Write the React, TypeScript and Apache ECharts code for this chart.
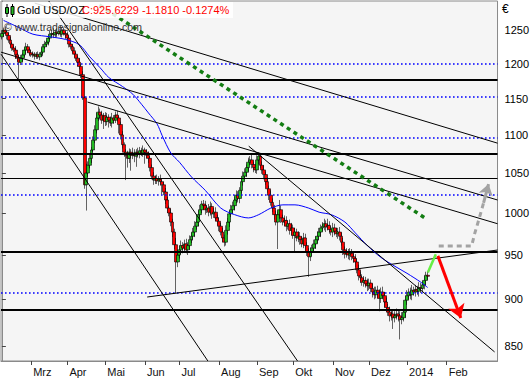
import React, { useEffect, useRef } from 'react';
import * as echarts from 'echarts';

const FONT = '"Liberation Sans", Arial, sans-serif';

// Category axis: trading days (weekdays) starting 2013-02-06
const START_YEAR = 2013;
const START_MONTH = 1; // February (0-based)
const START_DAY = 6;
const CATEGORY_COUNT = 288;
const LAST_LABEL_INDEX = 270;
const MONTH_LABELS = ['2014', 'Feb', 'Mrz', 'Apr', 'Mai', 'Jun', 'Jul', 'Aug', 'Sep', 'Okt', 'Nov', 'Dez'];

// Price axis (EUR, log scale)
const Y_TICKS = [850, 900, 950, 1000, 1050, 1100, 1150, 1200, 1250];
const Y_MIN = 834.7;
const Y_MAX = 1295.4;

// Daily candles: close, upper wick, lower wick (open = previous close)
const FIRST_OPEN = 1240;
const CLOSES = [
  1245, 1250, 1247, 1242, 1235, 1229, 1223, 1220, 1213, 1208,
  1202, 1208, 1213, 1220, 1225, 1220, 1216, 1213, 1214, 1211,
  1213, 1210, 1214, 1217, 1225, 1229, 1232, 1238, 1244, 1245,
  1243, 1247, 1245, 1248, 1244, 1250, 1245, 1243, 1238, 1229,
  1225, 1219, 1214, 1208, 1202, 1196, 1184, 1151, 1035, 1050,
  1060, 1069, 1080, 1093, 1107, 1123, 1131, 1127, 1120, 1126,
  1118, 1124, 1120, 1116, 1123, 1120, 1127, 1123, 1114, 1100,
  1087, 1077, 1073, 1069, 1077, 1073, 1076, 1072, 1077, 1075,
  1079, 1076, 1080, 1077, 1073, 1069, 1057, 1046, 1041, 1043,
  1040, 1042, 1039, 1035, 1026, 1016, 1006, 1000, 989, 977,
  962, 942, 950, 956, 961, 958, 963, 956, 961, 968,
  972, 977, 984, 989, 998, 1004, 1011, 1009, 1004, 1006,
  1001, 1008, 999, 1001, 994, 990, 984, 977, 970, 965,
  979, 989, 999, 1004, 1009, 1016, 1022, 1018, 1028, 1039,
  1046, 1051, 1057, 1064, 1067, 1061, 1057, 1054, 1067, 1072,
  1060, 1054, 1048, 1039, 1030, 1022, 1013, 1006, 998, 989,
  998, 1004, 994, 989, 991, 984, 987, 979, 982, 973,
  977, 970, 972, 968, 963, 970, 961, 953, 948, 953,
  958, 963, 968, 972, 977, 982, 984, 987, 983, 985,
  980, 977, 982, 978, 975, 977, 972, 965, 956, 951,
  953, 950, 952, 948, 946, 942, 933, 926, 924, 919,
  921, 917, 915, 918, 912, 908, 905, 910, 907, 901,
  908, 904, 897, 891, 886, 882, 884, 880, 882, 884,
  882, 878, 880, 886, 899, 904, 908, 905, 910, 908,
  911, 909, 913, 912, 916, 921, 926.8, 925.6229,
];
const WICK_UP = [
  5, 4, 6, 3, 4, 5, 3, 4, 6, 3,
  4, 5, 3, 4, 6, 4, 3, 5, 4, 3,
  4, 5, 3, 6, 4, 5, 3, 4, 5, 6,
  8, 4, 6, 3, 9, 5, 4, 3, 5, 4,
  3, 4, 5, 3, 4, 6, 3, 5, 2, 12,
  5, 6, 4, 5, 6, 7, 8, 5, 6, 4,
  5, 6, 4, 5, 7, 4, 5, 6, 3, 4,
  5, 3, 4, 6, 5, 4, 7, 5, 4, 6,
  5, 4, 6, 3, 4, 5, 3, 4, 5, 4,
  5, 4, 6, 3, 4, 5, 4, 3, 5, 4,
  4, 8, 6, 5, 6, 4, 5, 6, 4, 5,
  4, 5, 6, 4, 5, 6, 4, 5, 6, 4,
  5, 6, 4, 5, 6, 4, 5, 4, 5, 4,
  6, 5, 4, 6, 5, 4, 6, 5, 4, 5,
  6, 5, 4, 6, 5, 7, 4, 5, 6, 5,
  4, 5, 6, 4, 5, 4, 6, 5, 4, 5,
  4, 12, 5, 4, 6, 5, 4, 5, 6, 4,
  5, 4, 6, 5, 4, 6, 5, 4, 5, 6,
  4, 5, 4, 6, 5, 4, 5, 6, 4, 8,
  5, 4, 6, 5, 4, 5, 6, 4, 5, 4,
  5, 4, 6, 5, 4, 5, 4, 6, 5, 4,
  5, 4, 6, 5, 4, 5, 6, 4, 5, 4,
  5, 6, 4, 5, 4, 6, 5, 4, 5, 6,
  4, 5, 6, 4, 5, 6, 4, 5, 6, 4,
  5, 4, 6, 5, 4, 5, 4, 5,
];
const WICK_DOWN = [
  4, 5, 3, 6, 4, 5, 4, 3, 6, 5,
  26, 4, 5, 3, 6, 4, 5, 3, 4, 5,
  4, 3, 5, 4, 6, 3, 4, 5, 4, 3,
  5, 4, 6, 3, 4, 5, 3, 6, 4, 5,
  4, 3, 5, 4, 6, 4, 5, 3, 5, 32,
  5, 4, 6, 3, 4, 5, 4, 6, 5, 12,
  6, 5, 10, 4, 6, 5, 4, 5, 12, 6,
  5, 6, 32, 12, 6, 20, 5, 8, 14, 5,
  6, 4, 5, 15, 4, 6, 5, 4, 6, 5,
  4, 6, 5, 12, 4, 5, 6, 4, 5, 6,
  5, 35, 6, 4, 5, 6, 5, 4, 6, 5,
  4, 5, 6, 4, 5, 6, 4, 5, 6, 4,
  5, 4, 6, 5, 4, 5, 6, 4, 5, 5,
  4, 5, 6, 4, 5, 6, 4, 5, 6, 4,
  5, 4, 6, 5, 4, 5, 6, 4, 5, 6,
  4, 5, 6, 4, 5, 6, 4, 5, 6, 4,
  32, 5, 6, 4, 5, 6, 4, 5, 6, 4,
  20, 4, 5, 6, 4, 5, 6, 4, 23, 5,
  4, 5, 6, 4, 5, 6, 4, 5, 6, 4,
  5, 4, 6, 5, 4, 6, 5, 4, 6, 5,
  4, 5, 6, 4, 5, 6, 4, 5, 6, 4,
  5, 4, 6, 5, 4, 6, 5, 4, 6, 14,
  5, 4, 6, 5, 4, 6, 5, 12, 5, 4,
  6, 21, 5, 4, 6, 5, 4, 5, 6, 4,
  5, 4, 6, 5, 4, 5, 6, 4,
];

// Moving average: [day index, price]
const MA_POINTS = [
  [1, 1265], [10, 1254], [18, 1244], [28, 1240], [37, 1236], [45, 1228], [51, 1210],
  [57, 1194], [62, 1180], [70, 1167], [76, 1156], [81, 1142], [85, 1130], [90, 1115],
  [93, 1099], [98, 1076], [103, 1064], [110, 1045], [118, 1028], [127, 1006], [135, 998],
  [143, 994], [149, 998], [156, 1006], [163, 1010], [170, 1010], [178, 1006], [184, 1001],
  [191, 998], [199, 989], [205, 976], [212, 961], [220, 947], [228, 937], [235, 929],
  [243, 919], [247, 913],
];

// Horizontal levels
const LEVELS_THICK = [1172, 1078.6, 955.8, 887.2];
const LEVELS_THIN = [1041];
const LEVELS_DOTTED = [1204, 1149, 1092, 1022, 908];

// Trendlines: [index1, price1, index2, price2]
const TRENDLINES = [
  [19.1, 1292, 287.5, 1089],
  [-0.5, 1217, 287.5, 1016],
  [49.7, 1145, 287.5, 987],
  [-0.5, 1214, 119.5, 834.7],
  [27.2, 1295.4, 171.5, 834.7],
  [143.2, 1085, 285.8, 844],
  [84.3, 902.5, 287.5, 955.8],
];

const GREEN_DOTTED = [[56.6, 1289], [245.4, 994]];
const GRAY_PATH = [[253.4, 960.6], [272.5, 960.6], [274.2, 974.8], [277.1, 995.1], [279.4, 1012.3]];
const GRAY_TIP = [282.3, 1036];
const PROJECTION = [[247.1, 930], [251.7, 951]];
const RED_ARROW = [[252.9, 949], [266.2, 879.7]];

function buildDates(): string[] {
  const out: string[] = [];
  const d = new Date(Date.UTC(START_YEAR, START_MONTH, START_DAY));
  while (out.length < CATEGORY_COUNT) {
    const wd = d.getUTCDay();
    if (wd !== 0 && wd !== 6) out.push(d.toISOString().slice(0, 10));
    d.setUTCDate(d.getUTCDate() + 1);
  }
  return out;
}

const L = (p: number) => Math.log(p);

function buildOption() {
  const dates = buildDates();
  const isLabel = (i: number) =>
    i > 0 && i < LAST_LABEL_INDEX && dates[i].slice(5, 7) !== dates[i - 1].slice(5, 7);

  const candles = CLOSES.map((c, i) => {
    const o = i === 0 ? FIRST_OPEN : CLOSES[i - 1];
    const h = Math.max(o, c) + WICK_UP[i];
    const l = Math.min(o, c) - WICK_DOWN[i];
    return [L(o), L(c), L(l), L(h)];
  });

  const levelLines: any[] = [];
  LEVELS_DOTTED.forEach((v) =>
    levelLines.push({ yAxis: L(v), lineStyle: { color: '#0000ff', width: 1.6, type: [1.6, 2.4], opacity: 1 } })
  );
  LEVELS_THICK.forEach((v) =>
    levelLines.push({ yAxis: L(v), lineStyle: { color: '#000', width: 2, type: 'solid' } })
  );
  LEVELS_THIN.forEach((v) =>
    levelLines.push({ yAxis: L(v), lineStyle: { color: '#000', width: 1.2, type: 'solid' } })
  );

  const line = (pts: number[][], lineStyle: any, extra: any = {}) => ({
    type: 'line',
    xAxisIndex: 1,
    yAxisIndex: 0,
    data: pts.map(([x, p]) => [x, L(p)]),
    symbol: 'none',
    silent: true,
    z: 4,
    lineStyle,
    ...extra,
  });

  const series: any[] = [
    {
      type: 'candlestick',
      xAxisIndex: 0,
      yAxisIndex: 0,
      data: candles,
      barWidth: 3.4,
      silent: true,
      z: 2,
      itemStyle: {
        color: '#22bb22',
        color0: '#ff0000',
        borderColor: '#000',
        borderColor0: '#000',
        borderWidth: 0.6,
      },
      markLine: {
        silent: true,
        symbol: 'none',
        label: { show: false },
        data: levelLines,
        z: 3,
      },
    },
    line(MA_POINTS, { color: '#0000ff', width: 1 }, { smooth: 0.3, z: 3 }),
    ...TRENDLINES.map(([x1, p1, x2, p2]) =>
      line([[x1, p1], [x2, p2]], { color: '#000', width: 1 })
    ),
    line(GREEN_DOTTED, { color: '#137d13', width: 3.5, type: [4, 4] }, { z: 5 }),
    line(GRAY_PATH, { color: '#a3a3a3', width: 3, type: [5, 4] }, {
      z: 5,
      markLine: {
        silent: true,
        symbol: ['none', 'arrow'],
        symbolSize: 11,
        label: { show: false },
        lineStyle: { color: '#a3a3a3', width: 3, type: 'solid' },
        data: [[
          { coord: [GRAY_PATH[GRAY_PATH.length - 1][0], L(GRAY_PATH[GRAY_PATH.length - 1][1])] },
          { coord: [GRAY_TIP[0], L(GRAY_TIP[1])] },
        ]],
      },
    }),
    line(PROJECTION, { color: '#66ee44', width: 2.5 }, {
      z: 6,
      markLine: {
        silent: true,
        symbol: ['none', 'arrow'],
        symbolSize: 13,
        label: { show: false },
        lineStyle: { color: '#ff0000', width: 3, type: 'solid' },
        data: [[
          { coord: [RED_ARROW[0][0], L(RED_ARROW[0][1])] },
          { coord: [RED_ARROW[1][0], L(RED_ARROW[1][1])] },
        ]],
      },
    }),
  ];

  return {
    animation: false,
    backgroundColor: '#ffffff',
    grid: {
      left: 1,
      right: 32,
      top: 1,
      bottom: 19,
      show: true,
      backgroundColor: '#f5f5f5',
      borderColor: '#8a8a8a',
      borderWidth: 1,
    },
    xAxis: [
      {
        type: 'category',
        data: dates,
        boundaryGap: true,
        axisLine: { show: true, lineStyle: { color: '#8a8a8a' } },
        axisTick: {
          show: true,
          alignWithLabel: true,
          interval: (i: number) => isLabel(i),
          length: 4,
          lineStyle: { color: '#444' },
        },
        axisLabel: {
          interval: (i: number) => isLabel(i),
          formatter: (v: string) => MONTH_LABELS[parseInt(v.slice(5, 7), 10) - 1],
          align: 'left',
          margin: 5,
          padding: [0, 0, 0, 2],
          color: '#111',
          fontSize: 11,
          fontFamily: FONT,
        },
        splitLine: { show: false },
      },
      { type: 'value', min: -0.5, max: CATEGORY_COUNT - 0.5, show: false },
    ],
    yAxis: {
      type: 'value',
      position: 'right',
      min: L(Y_MIN),
      max: L(Y_MAX),
      axisLine: { show: true, lineStyle: { color: '#8a8a8a' } },
      axisTick: {
        show: true,
        length: 4,
        customValues: Y_TICKS.map(L),
        lineStyle: { color: '#444' },
      },
      axisLabel: {
        customValues: Y_TICKS.map(L),
        formatter: (v: number) => String(Math.round(Math.exp(v))),
        margin: 7,
        color: '#000',
        fontSize: 11,
        fontFamily: FONT,
      },
      splitLine: { show: false },
    },
    graphic: [
      {
        type: 'rect',
        z: 100,
        shape: { x: 2, y: 2, width: 231, height: 16 },
        style: { fill: 'rgba(255,255,255,0.85)' },
      },
      { type: 'line', z: 101, shape: { x1: 7, y1: 4, x2: 7, y2: 17 }, style: { stroke: '#000', lineWidth: 1 } },
      { type: 'rect', z: 102, shape: { x: 5.5, y: 7.5, width: 3, height: 6 }, style: { fill: '#22bb22', stroke: '#000', lineWidth: 1 } },
      { type: 'line', z: 101, shape: { x1: 12.5, y1: 4, x2: 12.5, y2: 17 }, style: { stroke: '#000', lineWidth: 1 } },
      { type: 'rect', z: 102, shape: { x: 11, y: 6.5, width: 3, height: 8 }, style: { fill: '#22bb22', stroke: '#000', lineWidth: 1 } },
      {
        type: 'text',
        z: 103,
        x: 17,
        y: 10,
        style: { text: 'Gold USD/OZ', fill: '#000', font: `11px ${FONT}`, verticalAlign: 'middle' },
      },
      {
        type: 'text',
        z: 103,
        x: 82,
        y: 10,
        style: { text: 'C:925.6229 -1.1810 -0.1274%', fill: '#ff0000', font: `11px ${FONT}`, verticalAlign: 'middle' },
      },
      {
        type: 'text',
        z: 103,
        x: 4,
        y: 27,
        style: { text: '© www.tradesignalonline.com', fill: '#333', font: `10.5px ${FONT}`, verticalAlign: 'middle' },
      },
      {
        type: 'text',
        z: 103,
        x: 502,
        y: 9,
        style: { text: '€', fill: '#000', font: `12px ${FONT}`, verticalAlign: 'middle' },
      },
    ],
    series,
  };
}

export default function App() {
  const ref = useRef<HTMLDivElement>(null);
  useEffect(() => {
    if (!ref.current) return;
    const chart = echarts.init(ref.current, undefined, { renderer: 'svg' });
    chart.setOption(buildOption() as any);
    return () => chart.dispose();
  }, []);
  return (
    <div
      ref={ref}
      style={{ position: 'fixed', left: 0, top: 0, width: 532, height: 380 }}
    />
  );
}
